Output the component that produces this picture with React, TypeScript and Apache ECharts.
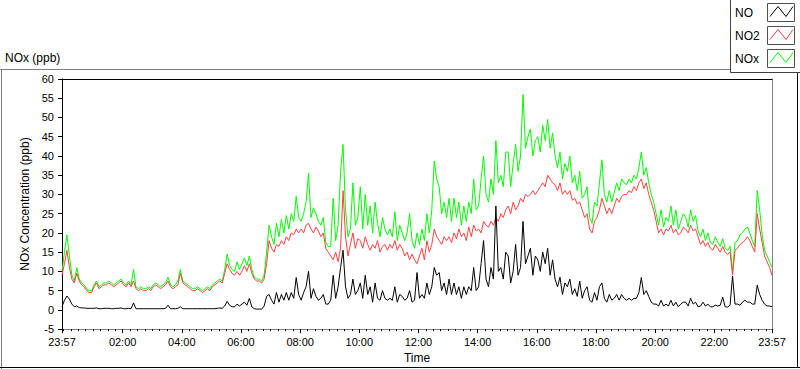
import React, { useEffect, useRef } from "react";
import * as echarts from "echarts";

// Time axis: minutes of day, starting at 23:57 of the previous day (-3)
const START_MIN = -3;
const STEP_MIN = 5;
const X_MIN = -3;
const X_MAX = 1437;

const Y_MIN = -5;
const Y_MAX = 60;
const Y_STEP = 5;

const TITLE = "NOx (ppb)";
const Y_NAME = "NOx Concentration (ppb)";
const X_NAME = "Time";
const SERIES_NAMES = ["NO", "NO2", "NOx"];

// Major tick / label positions (minutes of day)
const MAJOR_TICKS = [-3, 120, 240, 360, 480, 600, 720, 840, 960, 1080, 1200, 1320, 1437];

// NO2 (ppb), every 5 minutes from 23:57
const NO2 = [
  9,
  12, 15.5, 11, 8, 7, 9.5, 7.5, 6.5, 6, 5, 4.5, 4.5,
  6, 7, 5.5, 6, 6.5, 6.5, 7, 6.5, 6, 6.5, 7, 7.5,
  6.5, 6, 7, 6, 7.5, 5.5, 5, 5.5, 5, 5, 5.5, 5,
  6, 6.5, 6, 5.5, 6, 6.5, 7.5, 6, 5.5, 6, 6.5, 9.5,
  7, 6.5, 6, 5.5, 5, 5, 5.5, 5, 4.5, 5, 5.5, 5,
  6, 6.5, 7, 7.5, 7, 9.5, 12, 10.5, 9.5, 9, 10, 9,
  10, 11.5, 10, 12, 9.5, 8, 7.5, 7.5, 7, 8, 12, 18,
  16, 15, 17, 16.5, 18, 17, 19, 18, 20, 19.5, 21, 20,
  21, 20, 22, 22.5, 21, 20, 21.5, 20.5, 19, 20, 16, 15,
  14, 13, 15, 12.5, 16, 31, 19, 14, 17, 20, 16, 18.5,
  18, 16, 19, 17, 15.5, 17, 16, 18, 15, 16.5, 17, 15.5,
  17, 16, 18, 15.5, 17, 16, 14, 15, 13, 14.5, 13, 12,
  14, 16, 13, 18, 15, 17, 21, 19, 18, 17, 19, 18,
  19, 17.5, 20, 18.5, 21, 19, 20, 18, 21.5, 19, 22, 20.5,
  21, 20, 23, 22, 21.5, 23, 22, 24, 23, 25, 24, 26,
  27, 25, 28, 26, 27, 29, 28, 30, 29.5, 30, 31, 30,
  31, 32, 33, 32, 35, 34, 33, 32.5, 31, 33, 30, 31,
  30, 31, 28.5, 29, 27.5, 28, 26, 24, 25, 21, 20, 23,
  24, 26, 29, 27, 25, 26.5, 25, 27, 29, 28, 29.5, 30,
  30, 31, 30.5, 32, 31, 33, 34, 31.5, 33, 30, 28, 26,
  23, 20, 21, 19.5, 21, 20.5, 22, 20, 21, 19.5, 20, 21.5,
  21, 20, 22, 20.5, 21, 19, 17, 18, 16.5, 17.5, 16, 15.5,
  17, 16, 15, 16.5, 15, 14.5, 15, 9, 15.5, 16, 17, 17.5,
  18, 19, 18, 16.5, 15, 25, 21, 17.5, 14, 12.5, 11, 9,
];

// NOx (ppb)
const NOX = [
  10,
  15, 19.5, 14, 9, 7.5, 11, 8, 7, 6.5, 5.5, 5, 5,
  6.5, 7.5, 6, 6.5, 7, 7, 7.5, 7, 6.5, 7, 7.5, 8,
  7, 6.5, 7.5, 6.5, 10.5, 6, 5.5, 6, 5.5, 5.5, 6, 5.5,
  6.5, 7, 6.5, 6, 6.5, 7, 8.5, 6.5, 6, 6.5, 7.5, 10.5,
  7.5, 7, 6.5, 6, 5.5, 5.5, 6, 5.5, 5, 5.5, 6, 5.5,
  6.5, 7, 7.5, 8, 7.5, 10.5, 14.5, 11.5, 10.5, 10, 12.5, 10.5,
  12, 13.5, 11.5, 14, 10.5, 8.5, 8, 8, 7.5, 9, 15, 22,
  19, 17, 22.5, 19, 23.5, 20, 24.5, 21, 25, 23, 29.5, 24,
  23, 25, 28, 35.5, 24, 26.5, 25, 23, 22, 24, 17.5, 16.5,
  16.5, 29, 18, 22, 36, 43, 26, 19, 21, 33, 22, 24,
  32, 21, 30, 22, 27, 20, 28, 22.5, 19, 24, 21, 19.5,
  21, 19, 25.5, 18, 22, 20, 18, 20, 25, 18, 16, 20,
  17, 21, 18, 25, 20, 26, 38.7, 34, 32, 25, 28, 24,
  29, 23, 29, 24, 28, 22, 27, 23, 28, 25, 34, 26,
  27, 34, 40, 30, 28, 34, 30, 44, 33, 35, 32, 41,
  41, 32, 38, 43, 36, 40, 56, 42, 45, 47, 40, 44,
  45, 41, 48, 44, 49.5, 42, 46, 40, 37, 41, 34, 38,
  36, 40, 33, 35, 31, 36, 29, 30, 32, 24, 22.5, 28,
  27, 33, 39, 30, 28, 31, 28, 30.5, 33, 31, 34, 33,
  32.5, 34, 33, 35, 34, 37, 41, 35, 37, 33, 30, 28,
  25, 22, 26, 21.5, 24, 23, 27, 22, 26, 21, 23, 25,
  24, 21.5, 26, 23, 24.5, 20.5, 19, 21, 18, 20, 17.5, 17,
  19, 17.5, 16.5, 18.5, 16, 15.5, 16.5, 10, 17.5, 18, 19.5, 20,
  21, 21.5, 20, 18, 16.5, 31, 26, 19.5, 15.5, 14, 12.5, 11,
];

// NO (ppb)
const NO = [
  0.8,
  2.5, 3.6, 2.8, 1.5, 0.8, 1, 0.6, 0.5, 0.5, 0.4, 0.4, 0.4,
  0.4, 0.5, 0.3, 0.3, 0.4, 0.4, 0.4, 0.3, 0.3, 0.4, 0.4, 0.5,
  0.3, 0.3, 0.4, 0.3, 1.8, 0.3, 0.3, 0.3, 0.3, 0.3, 0.3, 0.3,
  0.3, 0.3, 0.3, 0.3, 0.3, 0.4, 1.2, 0.3, 0.3, 0.3, 0.4, 0.8,
  0.3, 0.3, 0.3, 0.3, 0.3, 0.3, 0.3, 0.3, 0.3, 0.3, 0.3, 0.3,
  0.3, 0.3, 0.4, 0.5, 0.4, 1, 2.2, 1.2, 0.8, 0.8, 1.5, 1,
  1.5, 2, 1.2, 3, 0.8, 0.3, 0.2, 0.2, 0.2, 1, 3.5, 4,
  2.5, 1.5, 4.5, 2, 4, 2.5, 4.5, 2.5, 4.5, 3, 8.4, 4,
  2.5, 4.5, 6, 10, 3, 5.5, 3.5, 2.5, 3, 4, 1.5, 1.5,
  2.5, 9, 3, 6, 11, 15.5, 6, 3, 4, 8, 4, 5,
  7, 3, 9, 4, 6, 2, 7, 3, 2.5, 5, 3, 2.5,
  3, 2.5, 6, 2, 4, 3.5, 2.5, 3, 5, 2, 2.5, 9.7,
  3, 4, 3, 7, 4, 6, 11, 9, 9.7, 5, 7, 4,
  8, 4, 7, 4, 6, 3, 6, 4, 6, 5, 11, 5,
  6, 12, 18, 8, 6, 11, 8, 27, 10, 11, 8, 15,
  14, 7, 10, 17, 9, 11, 23, 12, 14, 16, 9, 14,
  13, 10, 15, 12, 16, 9, 13, 8, 6, 8.5, 4, 7,
  6, 8, 4, 5.5, 3.5, 7.5, 3, 5, 6, 2.5, 2, 4.5,
  2.5, 6, 7, 3, 2, 4, 2.5, 3, 4, 2.5, 4, 3,
  2.5, 3, 2.5, 3, 3, 4.5, 8.4, 4, 5, 3.5, 2, 1.5,
  1.5, 1, 2.5, 1, 1.5, 1, 2.5, 1, 2, 0.8, 1.5, 2,
  2, 1, 3, 1.5, 2, 0.8, 1, 2, 1, 1.5, 0.8, 0.8,
  1.2, 1, 1.2, 3.3, 0.8, 0.7, 1.2, 8.8, 1.5, 1.5, 1.2, 2,
  2.5, 2, 2, 1.5, 1.5, 6.4, 4, 2.5, 1.5, 1, 1, 0.8,
];

const FONT = "'Liberation Sans', Arial, sans-serif";
const COLORS = { NO: "#000000", NO2: "#ff4040", NOx: "#00ff00" };

function fmtTime(v: number): string {
  const m = ((Math.round(v) % 1440) + 1440) % 1440;
  const hh = Math.floor(m / 60);
  const mm = m % 60;
  return String(hh).padStart(2, "0") + ":" + String(mm).padStart(2, "0");
}

function toPairs(arr: number[]) {
  return arr.map((v, i) => [START_MIN + i * STEP_MIN, v]);
}

const MINOR_TICKS: number[] = [];
for (let m = 0; m < 1440; m += 15) MINOR_TICKS.push(m);

export default function App() {
  const ref = useRef<HTMLDivElement>(null);

  useEffect(() => {
    if (!ref.current) return;
    const chart = echarts.init(ref.current, undefined, { renderer: "svg" });

    const legendY = [12.5, 35.5, 58.5];
    const legendColors = [COLORS.NO, COLORS.NO2, COLORS.NOx];

    const legendGraphics: any[] = [
      {
        type: "rect",
        shape: { x: 730.5, y: -2, width: 80, height: 74.5 },
        style: { fill: "#ffffff", stroke: "#404040", lineWidth: 1 },
        z: 100,
      },
    ];
    SERIES_NAMES.forEach((name, k) => {
      const cy = legendY[k];
      legendGraphics.push({
        type: "text",
        x: 735,
        y: cy,
        style: {
          text: name,
          fontSize: 12,
          fontFamily: FONT,
          fill: "#000",
          verticalAlign: "middle",
          align: "left",
        },
        z: 101,
      });
      legendGraphics.push({
        type: "rect",
        shape: { x: 767.5, y: cy - 9, width: 27, height: 18 },
        style: { fill: "#ffffff", stroke: "#505050", lineWidth: 1 },
        z: 101,
      });
      legendGraphics.push({
        type: "polyline",
        shape: {
          points: [
            [770, cy + 4],
            [778, cy - 6],
            [786, cy + 4],
            [793, cy - 6],
          ],
        },
        style: { stroke: legendColors[k], fill: null, lineWidth: 1 },
        z: 102,
      });
    });

    const option: any = {
      animation: false,
      backgroundColor: "#ffffff",
      textStyle: { fontFamily: FONT },
      grid: { left: 62, top: 79, right: 28, bottom: 39, containLabel: false },
      xAxis: [
        {
          type: "value",
          min: X_MIN,
          max: X_MAX,
          position: "bottom",
          name: X_NAME,
          nameLocation: "middle",
          nameGap: 22,
          nameTextStyle: { fontSize: 12, color: "#000", fontFamily: FONT },
          axisLine: { show: true, onZero: false, lineStyle: { color: "#808080", width: 1 } },
          axisTick: {
            show: true,
            customValues: MAJOR_TICKS,
            length: 4,
            lineStyle: { color: "#000", width: 1 },
          },
          axisLabel: {
            show: true,
            customValues: MAJOR_TICKS,
            formatter: (v: number) => fmtTime(v),
            fontSize: 11,
            color: "#000",
            margin: 7,
            fontFamily: FONT,
          },
          splitLine: { show: false },
        },
        {
          type: "value",
          min: X_MIN,
          max: X_MAX,
          position: "bottom",
          axisLine: { show: false, onZero: false },
          axisTick: {
            show: true,
            customValues: MINOR_TICKS,
            length: 2,
            lineStyle: { color: "#000", width: 1 },
          },
          axisLabel: { show: false },
          splitLine: { show: false },
        },
        {
          type: "value",
          min: X_MIN,
          max: X_MAX,
          position: "top",
          axisLine: { show: true, onZero: false, lineStyle: { color: "#000", width: 1 } },
          axisTick: { show: false },
          axisLabel: { show: false },
          splitLine: { show: false },
        },
      ],
      yAxis: [
        {
          type: "value",
          min: Y_MIN,
          max: Y_MAX,
          interval: Y_STEP,
          position: "left",
          name: Y_NAME,
          nameLocation: "middle",
          nameGap: 24,
          nameRotate: 90,
          nameTextStyle: { fontSize: 12, color: "#000", fontFamily: FONT },
          axisLine: { show: true, onZero: false, lineStyle: { color: "#000", width: 1 } },
          axisTick: { show: true, length: 4, lineStyle: { color: "#000", width: 1 } },
          axisLabel: { fontSize: 11, color: "#000", margin: 8, fontFamily: FONT },
          splitLine: { show: false },
        },
        {
          type: "value",
          min: Y_MIN,
          max: Y_MAX,
          interval: Y_STEP,
          position: "right",
          axisLine: { show: true, onZero: false, lineStyle: { color: "#808080", width: 1 } },
          axisTick: { show: false },
          axisLabel: { show: false },
          splitLine: { show: false },
        },
      ],
      series: [
        {
          name: SERIES_NAMES[2],
          type: "line",
          data: toPairs(NOX),
          showSymbol: false,
          lineStyle: { color: COLORS.NOx, width: 1 },
          itemStyle: { color: COLORS.NOx },
          silent: true,
        },
        {
          name: SERIES_NAMES[1],
          type: "line",
          data: toPairs(NO2),
          showSymbol: false,
          lineStyle: { color: COLORS.NO2, width: 1 },
          itemStyle: { color: COLORS.NO2 },
          silent: true,
        },
        {
          name: SERIES_NAMES[0],
          type: "line",
          data: toPairs(NO),
          showSymbol: false,
          lineStyle: { color: COLORS.NO, width: 1 },
          itemStyle: { color: COLORS.NO },
          silent: true,
        },
      ],
      graphic: [
        // outer frame
        { type: "line", shape: { x1: 1.5, y1: 69.5, x2: 1.5, y2: 369 }, style: { stroke: "#808080", lineWidth: 1 } },
        { type: "line", shape: { x1: 0, y1: 69.5, x2: 731, y2: 69.5 }, style: { stroke: "#808080", lineWidth: 1 } },
        { type: "line", shape: { x1: 797.5, y1: 72, x2: 797.5, y2: 368 }, style: { stroke: "#000", lineWidth: 1 } },
        { type: "line", shape: { x1: 0, y1: 367.5, x2: 800, y2: 367.5 }, style: { stroke: "#000", lineWidth: 1 } },
        {
          type: "text",
          x: 5,
          y: 58,
          style: {
            text: TITLE,
            fontSize: 12,
            fontFamily: FONT,
            fill: "#000",
            verticalAlign: "middle",
            align: "left",
          },
        },
        ...legendGraphics,
      ],
    };

    chart.setOption(option);
    return () => {
      chart.dispose();
    };
  }, []);

  return (
    <div
      ref={ref}
      style={{ position: "absolute", left: 0, top: 0, width: 800, height: 369, background: "#fff" }}
    />
  );
}
